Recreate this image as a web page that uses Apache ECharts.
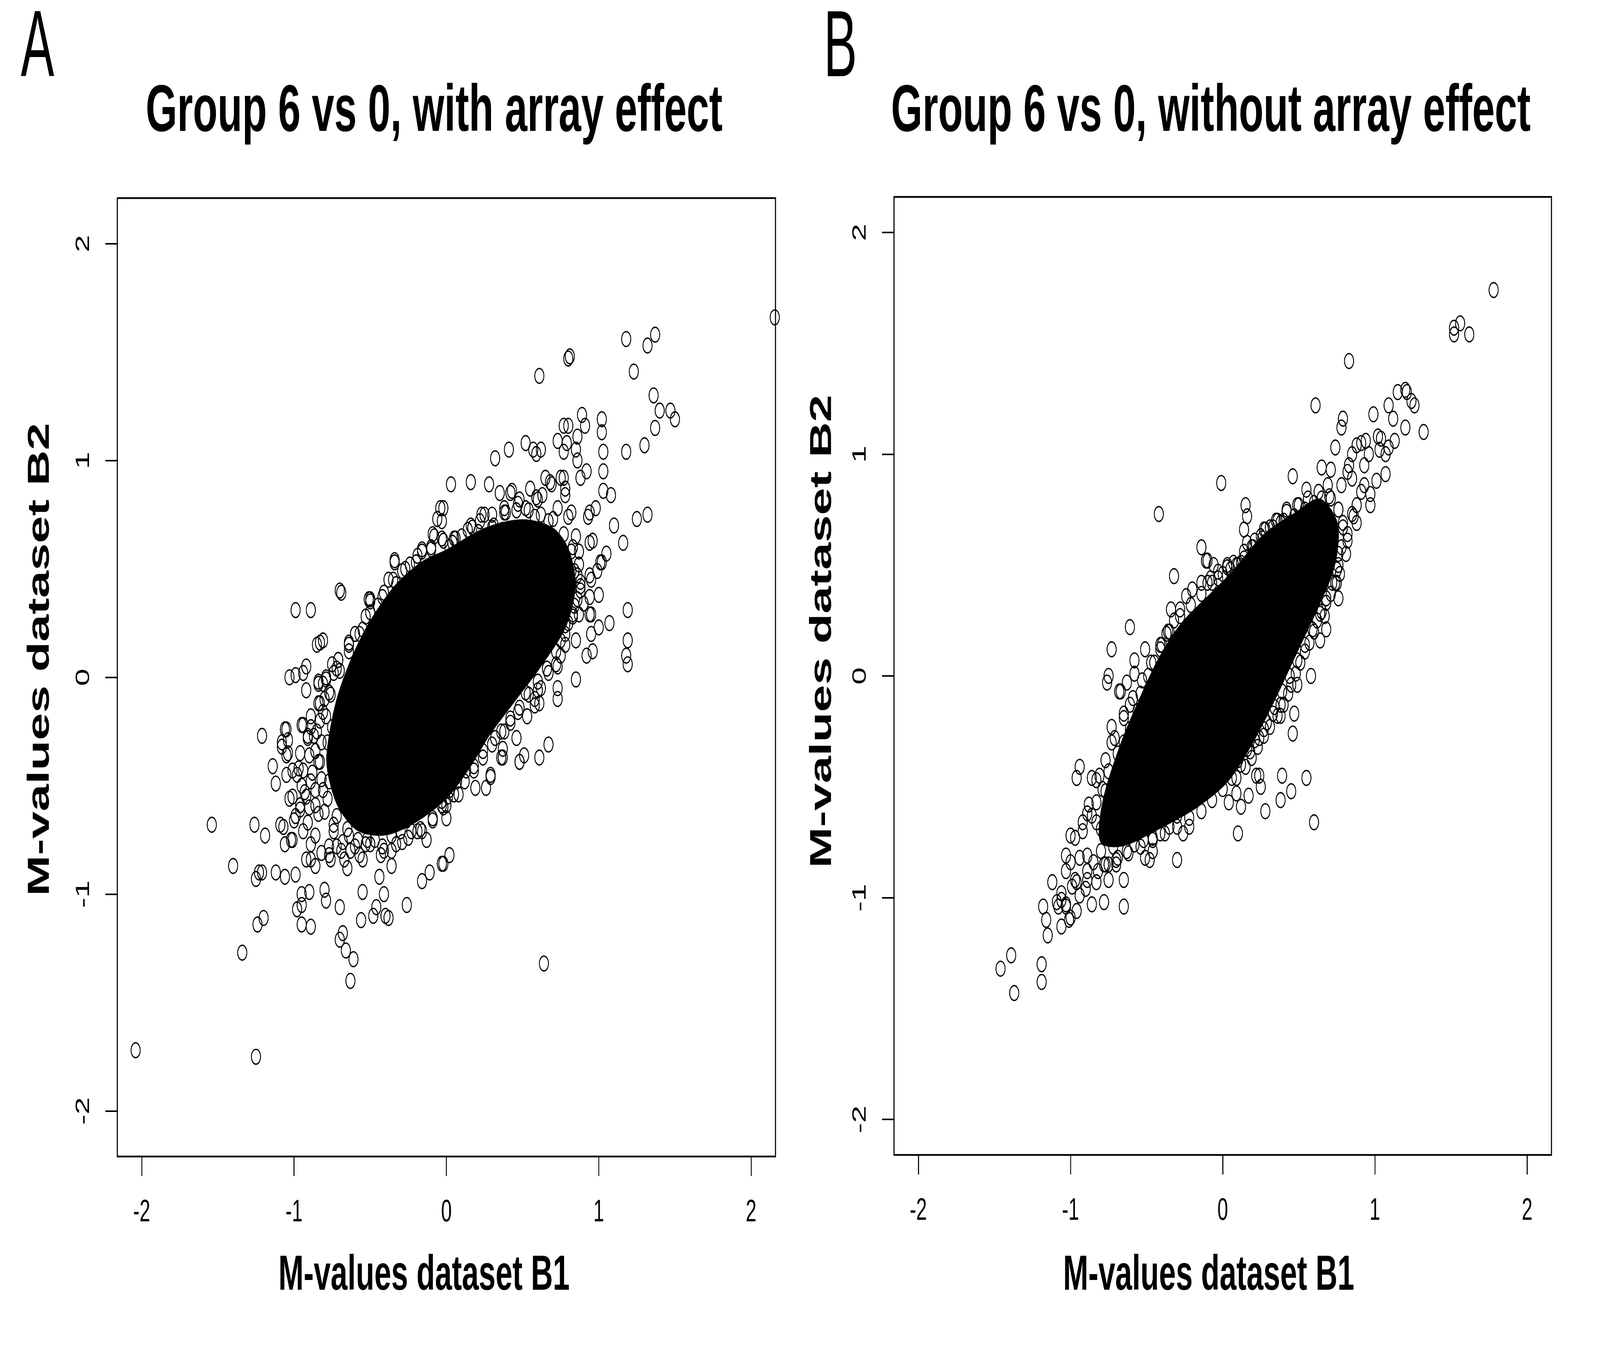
<!DOCTYPE html>
<html>
<head>
<meta charset="utf-8">
<title>Group 6 vs 0</title>
<script src="https://cdn.jsdelivr.net/npm/echarts@6/dist/echarts.min.js"></script>
<style>
  html, body { margin: 0; padding: 0; background: #fff; overflow: hidden; }
  #wrap { width: 6656px; height: 3445px; transform-origin: 0 0; }
  #chart { width: 6656px; height: 3445px; }
</style>
</head>
<body>
<div id="wrap"><div id="chart"></div></div>
<script>
// tick positions shared by all four axes
const tickValues = [-2, -1, 0, 1, 2];

// ---- panel A: with array effect ----
// solid core of the cloud (where the circles merge into black)
const coreA = [
  [-0.78, -0.36], [-0.72, -0.12], [-0.62, 0.08], [-0.50, 0.25], [-0.33, 0.42], [-0.15, 0.53],
  [0.00, 0.58], [0.25, 0.68], [0.50, 0.72], [0.70, 0.68], [0.80, 0.58], [0.84, 0.42],
  [0.78, 0.24], [0.62, 0.06], [0.45, -0.10], [0.28, -0.26], [0.15, -0.41], [0.00, -0.55],
  [-0.20, -0.66], [-0.40, -0.72], [-0.58, -0.70], [-0.70, -0.60], [-0.76, -0.48]
];
// tightly packed circles hugging the core
const innerBandA = [
  [-0.82, -0.30], [-0.79, -0.18], [-0.76, -0.08], [-0.70, 0.03], [-0.64, 0.12], [-0.57, 0.20],
  [-0.50, 0.30], [-0.42, 0.37], [-0.35, 0.45], [-0.27, 0.50], [-0.19, 0.56], [-0.10, 0.60],
  [-0.02, 0.63], [0.06, 0.64], [0.14, 0.68], [0.22, 0.72], [0.30, 0.75], [0.38, 0.76],
  [0.46, 0.77], [0.54, 0.77], [0.62, 0.75], [0.70, 0.73], [0.77, 0.66], [0.83, 0.60],
  [0.87, 0.52], [0.88, 0.44], [0.86, 0.36], [0.83, 0.28], [0.78, 0.20], [0.72, 0.12],
  [0.66, 0.04], [0.60, -0.02], [0.54, -0.08], [0.48, -0.14], [0.42, -0.19], [0.36, -0.25],
  [0.30, -0.31], [0.24, -0.37], [0.18, -0.43], [0.12, -0.48], [0.05, -0.54], [-0.02, -0.60],
  [-0.09, -0.65], [-0.17, -0.70], [-0.25, -0.74], [-0.33, -0.77], [-0.42, -0.78], [-0.50, -0.77],
  [-0.58, -0.75], [-0.65, -0.70], [-0.72, -0.64], [-0.78, -0.56], [-0.82, -0.47], [-0.84, -0.39],
  [-0.88, -0.44], [-0.90, -0.36], [-0.87, -0.27], [-0.83, -0.20], [-0.80, -0.10], [-0.86, -0.52],
  [-0.80, -0.62], [-0.74, -0.68], [-0.68, -0.76], [-0.90, -0.60], [-0.95, -0.50], [-0.97, -0.42]
];
// looser ring of circles further out
const fringeA = [
  [-0.64, 0.16], [-0.60, 0.20], [-0.55, 0.22], [-0.53, 0.28], [-0.50, 0.35], [-0.45, 0.33],
  [-0.41, 0.39], [-0.38, 0.45], [-0.33, 0.43], [-0.29, 0.49], [-0.24, 0.52], [-0.20, 0.53],
  [-0.16, 0.58], [-0.10, 0.59], [-0.08, 0.65], [-0.03, 0.64], [0.02, 0.60],
  [-0.75, 0.06], [-0.71, 0.08], [-0.79, -0.01], [-0.77, -0.07], [-0.84, -0.12], [-0.81, -0.16],
  [-0.85, -0.25], [-0.89, -0.23], [-0.86, -0.34], [-0.83, -0.39], [-0.89, -0.48], [-0.92, -0.55],
  [-0.86, -0.59], [-0.81, -0.52], [-0.77, -0.48], [-0.74, -0.41], [-0.78, -0.30], [-0.75, -0.23],
  [-0.72, 0.04], [-0.81, -0.03], [-0.91, -0.28], [-0.94, -0.43], [-0.96, -0.59], [-1.00, -0.66],
  [-1.03, -0.56], [-0.99, -0.64], [-1.09, -0.68], [-1.06, -0.77], [-1.02, -0.75], [-0.96, -0.59],
  [-0.94, -0.71], [-0.89, -0.77], [-0.92, -0.84], [-0.86, -0.87], [-0.82, -0.81], [-0.77, -0.82],
  [-0.72, -0.78], [-0.67, -0.84], [-0.63, -0.80], [-0.57, -0.82], [-0.53, -0.77], [-0.47, -0.75],
  [-0.41, -0.80], [-0.36, -0.73], [-0.30, -0.71], [-0.26, -0.66], [-0.19, -0.71], [-0.13, -0.75],
  [-0.09, -0.66], [-0.03, -0.57], [0.02, -0.52],
  [-0.04, 0.78], [0.04, 0.62], [0.10, 0.65], [0.17, 0.69], [0.21, 0.67], [0.30, 0.69],
  [0.35, 0.85], [0.38, 0.78], [0.42, 0.85], [0.47, 0.80], [0.52, 0.78], [0.55, 0.87],
  [0.59, 0.83], [0.65, 0.92], [0.69, 0.89], [0.75, 0.92], [0.78, 0.87], [0.80, 0.74],
  [0.85, 0.65], [0.87, 0.58], [0.82, 0.49], [0.86, 0.47], [0.80, 0.40], [0.83, 0.29],
  [0.78, 0.24], [0.75, 0.17], [0.72, 0.06], [0.66, 0.04], [0.62, -0.05], [0.58, -0.10],
  [0.52, -0.07], [0.47, -0.16], [0.42, -0.21], [0.38, -0.25], [0.32, -0.28], [0.24, -0.34],
  [0.18, -0.41], [0.13, -0.43], [0.07, -0.48], [0.01, -0.55], [-0.03, -0.59],
  [-0.34, 0.54], [-0.16, 0.59], [-0.06, 0.73], [-0.09, 0.66], [0.05, 0.64], [0.16, 0.70],
  [0.23, 0.75], [0.43, 0.86], [0.48, 0.82], [0.60, 0.82], [0.63, 0.84], [0.68, 0.90],
  [0.77, 0.92], [0.78, 0.84], [0.82, 0.76], [0.73, 0.78], [0.67, 0.72], [0.58, 0.74],
  [0.51, 0.68], [0.39, 0.76], [0.37, 0.68], [0.31, 0.70],
  [0.82, 0.58], [0.84, 0.49], [0.88, 0.42], [0.84, 0.33], [0.80, 0.25], [0.85, 0.17],
  [0.78, 0.15], [0.75, 0.10], [0.73, 0.05], [0.90, 0.34], [0.94, 0.29], [0.95, 0.45], [1.01, 0.53],
  [0.67, 0.02], [0.60, -0.06], [0.53, -0.18], [0.46, -0.28], [0.37, -0.33], [0.29, -0.45],
  [0.19, -0.51], [0.08, -0.54], [0.00, -0.59], [-0.09, -0.55], [-0.16, -0.71], [-0.23, -0.71],
  [-0.29, -0.76], [-0.36, -0.80], [-0.43, -0.82], [0.61, -0.12], [0.48, -0.39], [0.36, -0.37],
  [0.58, -0.13], [0.73, -0.05],
  [-0.52, -0.75], [-0.60, -0.78], [-0.69, -0.80], [-0.77, -0.78], [-0.86, -0.73], [-0.91, -0.67],
  [-0.96, -0.61], [-1.01, -0.55], [-1.05, -0.45], [-0.98, -0.45], [-0.93, -0.53], [-0.84, -0.63],
  [-0.74, -0.71], [-0.64, -0.73], [-0.55, -0.84], [-0.65, -0.88], [-0.76, -0.84], [-0.89, -0.84],
  [-1.01, -0.75], [-1.07, -0.69],
  [-1.05, -0.24], [-1.08, -0.32], [-1.04, -0.35], [-0.94, -0.22], [-0.89, -0.18], [-0.84, -0.02],
  [-0.79, 0.00], [-0.71, 0.08], [-0.60, 0.20], [-0.51, 0.36], [-0.64, 0.15], [-0.74, 0.02],
  [-0.83, -0.12], [-0.96, -0.35], [-1.01, -0.43]
];
// scattered single circles
const outliersA = [
  [-2.04, -1.72], [-1.25, -1.75], [-1.54, -0.68], [-1.40, -0.87], [-1.34, -1.27], [-1.26, -0.68],
  [-1.19, -0.73], [-1.21, -0.27], [-1.14, -0.41], [-1.12, -0.49], [-1.25, -0.93], [-1.23, -0.90],
  [-1.21, -0.90], [-1.24, -1.14], [-1.20, -1.11], [-1.12, -0.90], [-1.06, -0.92], [-0.99, -0.91],
  [-0.95, -1.00], [-0.90, -0.99], [-0.98, -1.07], [-0.95, -1.05], [-0.95, -1.14], [-0.89, -1.15],
  [-0.80, -0.98], [-0.79, -1.03], [-0.70, -1.06], [-0.70, -1.21], [-0.68, -1.18], [-0.66, -1.26],
  [-0.61, -1.30], [-0.63, -1.40], [-0.56, -1.12], [-0.55, -0.99], [-0.48, -1.10], [-0.46, -1.06],
  [-0.40, -1.10], [-0.38, -1.11], [-0.44, -0.92], [-0.41, -1.00], [-0.26, -1.05], [-0.36, -0.87],
  [-0.16, -0.94], [-0.11, -0.90], [-0.03, -0.86], [0.02, -0.82], [-0.02, -0.86], [0.00, -0.65],
  [-0.99, 0.31], [-0.89, 0.31], [-0.70, 0.40], [-0.69, 0.39], [-0.85, 0.15], [-0.83, 0.16],
  [-0.81, 0.17], [-0.92, 0.05], [-0.94, 0.02], [-0.99, 0.01], [-1.03, 0.00], [-0.92, -0.06],
  [-0.84, -0.03], [-0.34, 0.53], [-0.50, 0.36], [0.03, 0.89], [-0.02, 0.78], [-0.03, 0.72],
  [-1.06, -0.24], [-1.04, -0.29], [-1.08, -0.30], [-1.05, -0.36], [-0.95, -0.22], [-0.91, -0.27],
  [2.155, 1.66], [1.18, 1.56], [1.32, 1.53], [1.37, 1.58], [1.23, 1.41], [1.36, 1.30],
  [1.40, 1.23], [1.47, 1.23], [1.50, 1.19], [1.37, 1.15], [1.30, 1.07], [1.18, 1.04],
  [1.25, 0.73], [1.32, 0.75], [1.16, 0.62], [1.10, 0.70], [1.08, 0.84], [1.03, 0.86],
  [1.03, 0.95], [1.03, 1.04], [1.02, 1.19], [1.02, 1.13], [0.89, 1.21], [0.91, 1.16],
  [0.80, 1.47], [0.81, 1.48], [0.61, 1.39], [0.41, 1.05], [0.32, 1.01], [0.52, 1.08],
  [0.57, 1.05], [0.59, 1.03], [0.62, 1.05], [0.16, 0.90], [0.28, 0.89], [0.25, 0.75],
  [1.19, 0.31], [1.19, 0.17], [1.18, 0.10], [1.19, 0.06], [1.07, 0.25], [1.00, 0.23],
  [0.95, 0.20], [0.96, 0.12], [0.92, 0.10], [0.85, -0.01], [0.73, -0.10], [0.67, -0.31],
  [0.61, -0.37], [0.51, -0.36], [0.48, -0.39], [0.37, -0.37], [0.29, -0.46], [0.26, -0.51],
  [0.64, -1.32], [1.00, 0.38], [0.94, 0.37], [0.88, 0.40], [0.95, 0.29], [0.87, 0.29],
  [1.05, 0.57], [1.02, 0.53], [0.99, 0.49], [0.94, 0.47], [0.94, 0.76], [0.93, 0.74],
  [0.98, 0.78], [0.96, 0.63], [0.94, 0.62], [0.88, 0.92], [0.86, 1.11], [0.85, 1.05],
  [0.86, 1.00], [0.92, 0.95], [0.77, 1.16], [0.80, 1.16], [0.77, 1.04], [0.73, 1.09], [0.79, 1.08]
];

// ---- panel B: without array effect ----
const coreB = [
  [-0.80, -0.74], [-0.78, -0.56], [-0.66, -0.30], [-0.55, -0.12], [-0.42, 0.07], [-0.27, 0.23],
  [-0.07, 0.37], [0.06, 0.46], [0.27, 0.63], [0.48, 0.73], [0.64, 0.79], [0.75, 0.68],
  [0.73, 0.50], [0.62, 0.31], [0.49, 0.12], [0.34, -0.10], [0.19, -0.30], [0.03, -0.47],
  [-0.18, -0.59], [-0.44, -0.69], [-0.66, -0.76]
];
const innerBandB = [
  [-0.92, -0.70], [-0.88, -0.58], [-0.83, -0.47], [-0.77, -0.38], [-0.71, -0.28], [-0.65, -0.19],
  [-0.59, -0.10], [-0.53, -0.02], [-0.47, 0.06], [-0.41, 0.14], [-0.35, 0.20], [-0.28, 0.27],
  [-0.21, 0.32], [-0.14, 0.37], [-0.07, 0.42], [0.00, 0.46], [0.07, 0.51], [0.14, 0.56],
  [0.21, 0.61], [0.28, 0.66], [0.35, 0.70], [0.42, 0.74], [0.49, 0.77], [0.56, 0.80],
  [0.63, 0.83], [0.70, 0.81], [0.76, 0.75], [0.79, 0.67], [0.78, 0.58], [0.76, 0.50],
  [0.72, 0.42], [0.68, 0.35], [0.64, 0.28], [0.59, 0.21], [0.54, 0.14], [0.49, 0.07],
  [0.44, 0.00], [0.39, -0.07], [0.34, -0.14], [0.29, -0.21], [0.24, -0.28], [0.18, -0.34],
  [0.12, -0.40], [0.06, -0.46], [0.00, -0.51], [-0.07, -0.56], [-0.14, -0.61], [-0.22, -0.64],
  [-0.30, -0.68], [-0.38, -0.71], [-0.46, -0.74], [-0.54, -0.77], [-0.62, -0.80], [-0.70, -0.83],
  [-0.78, -0.85], [-0.85, -0.84]
];
const fringeB = [
  [-0.89, -0.62], [-0.83, -0.57], [-0.77, -0.52], [-0.75, -0.43], [-0.69, -0.35], [-0.65, -0.30],
  [-0.61, -0.24], [-0.56, -0.16], [-0.54, -0.08], [-0.49, 0.00], [-0.45, 0.06], [-0.41, 0.12],
  [-0.37, 0.19], [-0.32, 0.25], [-0.28, 0.30], [-0.24, 0.36], [-0.20, 0.39], [-0.14, 0.42],
  [-0.08, 0.44], [-0.03, 0.47], [0.03, 0.49], [0.09, 0.50], [0.14, 0.53], [0.20, 0.58],
  [0.25, 0.63], [0.31, 0.67],
  [-1.03, -0.88], [-0.96, -0.93], [-0.89, -0.92], [-0.82, -0.88], [-0.75, -0.85], [-0.69, -0.82],
  [-0.63, -0.79], [-0.58, -0.76], [-0.52, -0.74], [-0.46, -0.73], [-0.41, -0.71], [-0.35, -0.68],
  [-0.30, -0.63], [-0.24, -0.58], [-0.18, -0.54], [-0.13, -0.49], [-0.07, -0.46], [-0.01, -0.44],
  [0.04, -0.41], [0.10, -0.38], [0.16, -0.33], [0.21, -0.29], [0.27, -0.24], [0.33, -0.17],
  [-0.97, -0.73], [-0.92, -0.66], [-0.86, -0.63], [-0.80, -0.69], [-0.89, -0.81], [-0.94, -0.82],
  [-0.97, -0.92], [-0.90, -0.96], [-0.83, -0.93], [-0.77, -0.85], [-0.72, -0.77], [-0.80, -0.79],
  [-1.00, -0.84], [-0.94, -0.99], [-0.89, -0.88], [-0.75, -0.92], [-0.70, -0.85], [-0.83, -0.66],
  [-0.75, -0.69], [-0.69, -0.65], [-1.03, -1.04], [-1.00, -1.09], [-1.08, -1.04], [-1.06, -0.98],
  [-0.99, -0.95],
  [-0.10, 0.42], [-0.03, 0.44], [0.05, 0.48], [0.12, 0.51], [0.19, 0.58], [0.26, 0.62],
  [0.33, 0.67], [0.40, 0.70], [0.47, 0.72], [0.54, 0.75], [0.60, 0.78], [0.65, 0.80],
  [0.71, 0.80], [0.76, 0.75], [0.79, 0.69], [0.82, 0.64], [0.85, 0.73], [0.88, 0.77],
  [0.91, 0.83], [0.93, 0.86], [0.85, 0.89], [0.82, 0.92], [0.78, 0.86],
  [0.76, 0.55], [0.75, 0.48], [0.74, 0.42], [0.71, 0.37], [0.68, 0.33], [0.65, 0.29],
  [0.62, 0.25], [0.60, 0.20], [0.57, 0.15], [0.54, 0.11], [0.51, 0.06], [0.48, 0.01],
  [0.45, -0.04], [0.43, -0.08], [0.40, -0.13], [0.36, -0.18], [0.31, -0.23], [0.27, -0.27],
  [0.23, -0.32], [0.19, -0.37], [0.15, -0.41], [0.09, -0.46]
];
const outliersB = [
  [-1.46, -1.32], [-1.39, -1.26], [-1.37, -1.43], [-1.19, -1.30], [-1.19, -1.38], [-1.15, -1.17],
  [-1.16, -1.10], [-1.18, -1.04], [-1.12, -0.93], [-1.06, -1.13], [-1.01, -1.10], [-0.96, -1.06],
  [-1.09, -1.02], [-1.06, -1.01], [-1.03, -1.03], [-0.86, -1.03], [-0.78, -1.02], [-0.65, -1.04],
  [-0.65, -0.92], [-0.30, -0.83], [0.10, -0.71], [0.28, -0.61], [0.04, -0.57], [0.12, -0.59],
  [0.09, -0.53], [0.17, -0.54], [0.25, -0.50], [0.22, -0.45], [0.24, -0.45], [-0.22, -0.68],
  [-0.26, -0.71], [-0.48, -0.83], [-0.51, -0.82], [-0.46, -0.79], [-0.96, -0.46], [-0.94, -0.41],
  [-0.86, -0.46], [-0.81, -0.45], [-0.79, -0.51], [-1.00, -0.72], [-1.03, -0.81], [-0.73, -0.23],
  [-0.73, -0.30], [-0.65, -0.17], [-0.67, -0.07], [-0.61, -0.13], [-0.76, -0.03], [-0.75, 0.00],
  [-0.73, 0.12], [-0.61, 0.22], [-0.42, 0.73], [-0.01, 0.87], [0.15, 0.77], [0.16, 0.72],
  [0.14, 0.66], [0.16, 0.60], [-0.32, 0.45], [-0.14, 0.58], [-0.06, 0.50], [-0.10, 0.52],
  [0.03, 0.50], [0.10, 0.50], [-0.51, 0.12], [-0.58, 0.07], [-0.58, 0.01], [-0.63, -0.03],
  [-0.68, -0.07], [-0.34, 0.30], [-0.36, 0.20], [-0.40, 0.14],
  [1.78, 1.74], [1.52, 1.57], [1.52, 1.54], [1.56, 1.59], [1.62, 1.54], [0.83, 1.42],
  [0.61, 1.22], [0.79, 1.16], [0.78, 1.12], [0.74, 1.03], [0.99, 1.18], [1.09, 1.22],
  [1.12, 1.16], [1.15, 1.28], [1.20, 1.29], [1.21, 1.28], [1.24, 1.24], [1.26, 1.22],
  [1.20, 1.12], [1.32, 1.10], [1.13, 1.06], [1.09, 1.03], [1.07, 1.00], [1.02, 1.08],
  [1.04, 1.07], [1.03, 1.02], [1.07, 0.91], [1.01, 0.88], [0.97, 0.82], [0.97, 0.77],
  [0.94, 1.06], [0.91, 1.05], [0.88, 1.04], [0.65, 0.94], [0.71, 0.93], [0.69, 0.86],
  [0.55, 0.84], [0.46, 0.90], [0.50, 0.77], [0.42, 0.75], [-0.11, 0.52], [0.27, 0.66],
  [0.36, 0.70], [0.38, 0.69], [0.76, 0.35], [0.67, 0.27], [0.68, 0.21], [0.64, 0.16],
  [0.58, 0.00], [0.49, -0.04], [0.47, -0.17], [0.38, -0.18], [0.38, -0.13], [0.46, -0.26],
  [0.39, -0.45], [0.77, 0.46], [0.75, 0.42], [0.88, 0.69], [0.86, 0.72], [0.82, 0.61],
  [0.81, 0.55], [0.96, 1.00], [0.93, 0.95], [0.85, 1.00], [0.83, 0.95],
  [0.55, -0.46], [0.60, -0.66], [0.45, -0.52], [0.38, -0.56]
];

const FONT = '"Liberation Sans", Arial, Helvetica, sans-serif';

function xAxisFor(gridIndex) {
  return {
    type: 'value', gridIndex: gridIndex, min: -2.16, max: 2.16,
    axisLine: { show: true, onZero: false, lineStyle: { color: '#000', width: 4 } },
    axisTick: { show: true, inside: false, length: 50, customValues: tickValues, lineStyle: { color: '#000', width: 4 } },
    axisLabel: { customValues: tickValues, fontSize: 80, fontFamily: FONT, color: '#000', margin: 104 },
    splitLine: { show: false }
  };
}

function yAxisFor(gridIndex, lim) {
  return {
    type: 'value', gridIndex: gridIndex, min: -lim, max: lim,
    axisLine: { show: true, onZero: false, lineStyle: { color: '#000', width: 4 } },
    axisTick: { show: true, inside: false, length: 50, customValues: tickValues, lineStyle: { color: '#000', width: 4 } },
    axisLabel: { customValues: tickValues, rotate: 90, fontSize: 80, fontFamily: FONT, color: '#000', margin: 100 },
    splitLine: { show: false }
  };
}

function circles(data, idx) {
  return {
    type: 'scatter', xAxisIndex: idx, yAxisIndex: idx, data: data,
    symbol: 'circle', symbolSize: 38, silent: true,
    itemStyle: { color: 'rgba(0,0,0,0)', borderColor: '#000', borderWidth: 3.6, opacity: 1 }
  };
}

function core(hull, idx) {
  return {
    type: 'custom', xAxisIndex: idx, yAxisIndex: idx, silent: true, data: [[0, 0]],
    renderItem: function (params, api) {
      return {
        type: 'polygon',
        shape: { points: hull.map(function (p) { return api.coord(p); }), smooth: 0.3 },
        style: { fill: '#000', stroke: '#000', lineWidth: 10, lineJoin: 'round' }
      };
    }
  };
}

function label(text, x, y, size, weight, extra) {
  return Object.assign({
    type: 'text', x: x, y: y,
    style: {
      text: text, fill: '#000',
      font: weight + ' ' + size + 'px ' + FONT,
      align: 'center', verticalAlign: 'middle',
      textAlign: 'center', textVerticalAlign: 'middle'
    }
  }, extra || {});
}

// the figure is laid out on its original 6656 x 3445 canvas and then fitted to the window
const wrap = document.getElementById('wrap');
function fit() {
  const sx = window.innerWidth / 6656, sy = window.innerHeight / 3445;
  wrap.style.transform = 'scale(' + sx + ',' + sy + ')';
}
fit();

const chart = echarts.init(document.getElementById('chart'), null, { renderer: 'canvas', devicePixelRatio: 1 });

chart.setOption({
  animation: false,
  backgroundColor: '#fff',
  grid: [
    { left: 488, top: 507, width: 2738, height: 2453, show: true, borderColor: '#000', borderWidth: 4.5, backgroundColor: 'transparent' },
    { left: 3719, top: 504, width: 2735, height: 2452, show: true, borderColor: '#000', borderWidth: 4.5, backgroundColor: 'transparent' }
  ],
  xAxis: [xAxisFor(0), xAxisFor(1)],
  yAxis: [yAxisFor(0, 2.21), yAxisFor(1, 2.16)],
  series: [
    core(coreA, 0), circles(innerBandA, 0), circles(fringeA, 0), circles(outliersA, 0),
    core(coreB, 1), circles(innerBandB, 1), circles(fringeB, 1), circles(outliersB, 1)
  ],
  graphic: [
    label('A', 156, 128, 242, 'normal', { scaleX: 0.86 }),
    label('B', 3496, 128, 242, 'normal', { scaleX: 0.86 }),
    label('Group 6 vs 0, with array effect', 1806, 289, 168, 'bold'),
    label('Group 6 vs 0, without array effect', 5037, 289, 168, 'bold'),
    label('M-values dataset B1', 1764, 3266, 126, 'bold'),
    label('M-values dataset B1', 5028, 3266, 126, 'bold'),
    label('M-values dataset B2', 168, 1688, 126, 'bold', { rotation: Math.PI / 2 }),
    label('M-values dataset B2', 3422, 1616, 126, 'bold', { rotation: Math.PI / 2 })
  ]
});

window.addEventListener('resize', fit);
</script>
</body>
</html>
